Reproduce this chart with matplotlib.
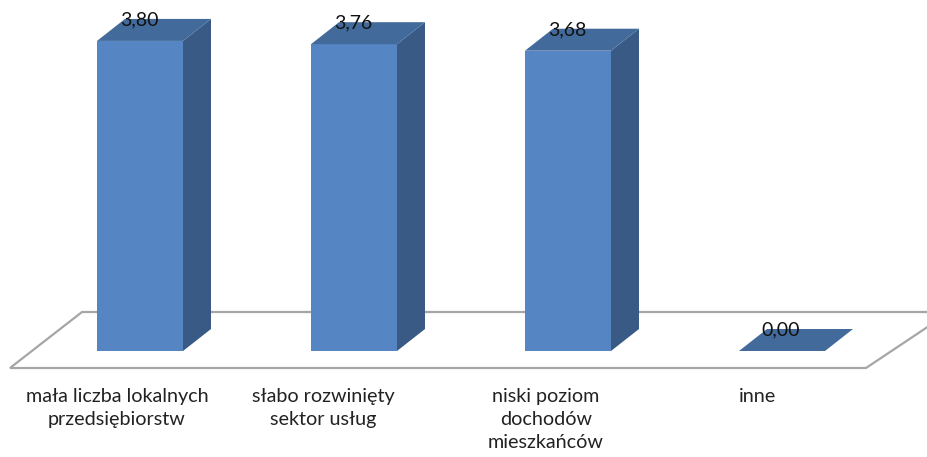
import numpy as np
import matplotlib
matplotlib.use("Agg")
import matplotlib.pyplot as plt
from matplotlib.patches import Polygon

# data
categories = ["mała liczba lokalnych\nprzedsiębiorstw", "słabo rozwinięty\nsektor usług",
              "niski poziom\ndochodów\nmieszkańców", "inne"]
values = [3.80, 3.76, 3.68, 0.00]
value_labels = ["3,80", "3,76", "3,68", "0,00"]

W, H = 928, 457
px_x = 214.0  # px per category
px_y = 81.6   # px per unit of value
bar_w = 86 / px_x
dx = 28 / px_x
dy = 22 / px_y
label_shift = [-23, -31, -22, -24]  # category labels sit left of the bars

fig = plt.figure(figsize=(W / 100, H / 100), dpi=100)
ax = fig.add_axes([0, 0, 1, 1])
ax.set_xlim(-140 / px_x, (W - 140) / px_x)
ax.set_ylim((351 - H) / px_y, 351 / px_y)
ax.axis("off")

# floor
fl = -17 / px_y
ax.add_patch(Polygon([(-130 / px_x, fl), (726 / px_x, fl), (810 / px_x, 39 / px_y),
                      (-58 / px_x, 39 / px_y)], closed=True, fc="white", ec="#a6a6a6", lw=1.6, zorder=1))

front = "#5585c2"
side = "#385a85"
top = "#426a9a"

for i, v in enumerate(values):
    l, r = i - bar_w / 2, i + bar_w / 2
    ax.add_patch(Polygon([(l, 0), (r, 0), (r, v), (l, v)], closed=True, fc=front, ec="none", zorder=3))
    ax.add_patch(Polygon([(r, 0), (r + dx, dy), (r + dx, v + dy), (r, v)], closed=True, fc=side, ec="none", zorder=3))
    ax.add_patch(Polygon([(l, v), (r, v), (r + dx, v + dy), (l + dx, v + dy)], closed=True, fc=top, ec="none", zorder=3))
    ax.text(i - 1 / px_x, v + 0.26, value_labels[i], ha="center", va="center", fontsize=14, color="#111111",
            family="Lato", zorder=4)
    ax.text(i + label_shift[i] / px_x, -0.45, categories[i], ha="center", va="top", fontsize=14.2, color="#222222",
            family="Lato", linespacing=1.43, zorder=4)

fig.savefig("out.png", dpi=100)
